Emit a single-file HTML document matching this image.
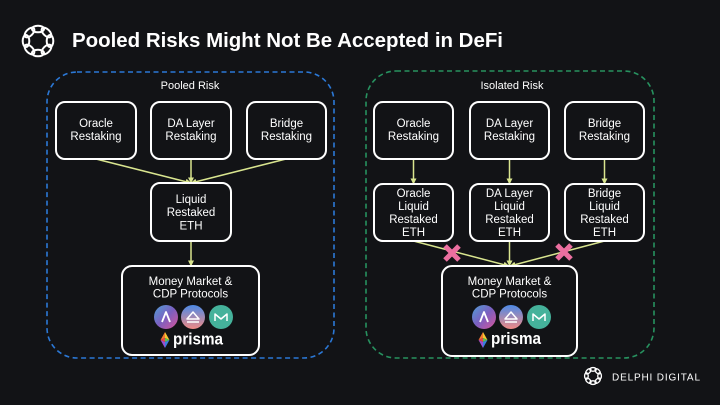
<!DOCTYPE html>
<html><head><meta charset="utf-8"><style>
html,body{margin:0;padding:0;background:#121316;}
svg{display:block;}
text{font-family:"Liberation Sans",sans-serif;fill:#fff;}
</style></head><body>
<svg width="720" height="405" viewBox="0 0 720 405" xmlns="http://www.w3.org/2000/svg">
<defs>
<marker id="ah" markerWidth="6" markerHeight="6" refX="5.5" refY="3" orient="auto" markerUnits="userSpaceOnUse"><path d="M0,0 L6,3 L0,6 z" fill="#d9e58f"/></marker>
<linearGradient id="aave" x1="0" y1="0" x2="1" y2="1"><stop offset="0" stop-color="#4f9fd6"/><stop offset="0.5" stop-color="#7c5fc0"/><stop offset="1" stop-color="#d9559a"/></linearGradient>
<linearGradient id="liq" x1="0" y1="0" x2="0" y2="1"><stop offset="0" stop-color="#4d8ae6"/><stop offset="1" stop-color="#f08a86"/></linearGradient>
<g id="knot" fill="none" stroke="#fff">
<ellipse cx="0" cy="-12" rx="6" ry="3.3" transform="rotate(0)"/>
<ellipse cx="0" cy="-12" rx="6" ry="3.3" transform="rotate(45)"/>
<ellipse cx="0" cy="-12" rx="6" ry="3.3" transform="rotate(90)"/>
<ellipse cx="0" cy="-12" rx="6" ry="3.3" transform="rotate(135)"/>
<ellipse cx="0" cy="-12" rx="6" ry="3.3" transform="rotate(180)"/>
<ellipse cx="0" cy="-12" rx="6" ry="3.3" transform="rotate(225)"/>
<ellipse cx="0" cy="-12" rx="6" ry="3.3" transform="rotate(270)"/>
<ellipse cx="0" cy="-12" rx="6" ry="3.3" transform="rotate(315)"/>
</g>
<g id="icons">
<circle cx="-27" cy="0" r="12" fill="url(#aave)"/>
<path d="M-31,5 L-27,-5 L-23,5" fill="none" stroke="#fff" stroke-width="1.8" stroke-linejoin="round"/>
<circle cx="0" cy="0" r="12" fill="url(#liq)"/>
<path d="M-6,2 L0,-5 L6,2 Z M-6,5 L6,5" fill="none" stroke="#fff" stroke-width="1.5" stroke-linejoin="round"/>
<circle cx="28" cy="0" r="12" fill="#45b29b"/>
<path d="M22,4 L22,-3 L28,2 L34,-3 L34,4" fill="none" stroke="#fff" stroke-width="1.5" stroke-linejoin="round"/>
</g>
<g id="prism">
<path d="M0,-8 L4.5,0 L0,-2 Z" fill="#f5c531"/>
<path d="M0,-8 L-4.5,0 L0,-2 Z" fill="#f07a2f"/>
<path d="M-4.5,0 L0,-2 L0,2 Z" fill="#e9434b"/>
<path d="M4.5,0 L0,-2 L0,2 Z" fill="#5bc24e"/>
<path d="M-4.5,0 L0,8 L0,2 Z" fill="#9a4fd0"/>
<path d="M4.5,0 L0,8 L0,2 Z" fill="#3b7de0"/>
</g>
</defs>

<!-- Title -->
<use href="#knot" transform="translate(38,41)" stroke-width="2"/>
<text x="72" y="47" font-size="20.5" font-weight="bold" textLength="431" lengthAdjust="spacingAndGlyphs">Pooled Risks Might Not Be Accepted in DeFi</text>

<!-- Dashed containers -->
<rect x="47" y="72" width="287" height="286" rx="30" fill="none" stroke="#2b78d6" stroke-width="1.6" stroke-dasharray="5 3.5"/>
<rect x="366" y="71" width="288" height="287" rx="30" fill="none" stroke="#27915f" stroke-width="1.6" stroke-dasharray="5 3.5"/>
<text x="190" y="89" font-size="11" text-anchor="middle">Pooled Risk</text>
<text x="512" y="89" font-size="11" text-anchor="middle">Isolated Risk</text>

<!-- Connectors -->
<g stroke="#d9e58f" stroke-width="1.5" fill="none" marker-end="url(#ah)">
<line x1="96" y1="159" x2="191" y2="183"/>
<line x1="191" y1="159" x2="191" y2="183"/>
<line x1="286" y1="159" x2="191" y2="183"/>
<line x1="191" y1="241" x2="191" y2="266"/>
<line x1="413.5" y1="159" x2="413.5" y2="184"/>
<line x1="509.5" y1="159" x2="509.5" y2="184"/>
<line x1="604.5" y1="159" x2="604.5" y2="184"/>
<line x1="413.5" y1="241" x2="509" y2="266"/>
<line x1="509.5" y1="241" x2="509.5" y2="266"/>
<line x1="604.5" y1="241" x2="510" y2="266"/>
</g>

<!-- Boxes -->
<g fill="#121316" stroke="#fff" stroke-width="2">
<rect x="56" y="102" width="80" height="57" rx="9"/>
<rect x="151" y="102" width="80" height="57" rx="9"/>
<rect x="247" y="102" width="79" height="57" rx="9"/>
<rect x="151" y="183" width="80" height="58" rx="9"/>
<rect x="122" y="266" width="137" height="89" rx="10"/>
<rect x="374" y="102" width="79" height="57" rx="9"/>
<rect x="470" y="102" width="79" height="57" rx="9"/>
<rect x="565" y="102" width="79" height="57" rx="9"/>
<rect x="374" y="184" width="79" height="57" rx="9"/>
<rect x="470" y="184" width="79" height="57" rx="9"/>
<rect x="565" y="184" width="79" height="57" rx="9"/>
<rect x="442" y="266" width="135" height="90" rx="10"/>
</g>

<g font-size="11.5" text-anchor="middle">
<text x="96" y="127">Oracle</text><text x="96" y="140">Restaking</text>
<text x="191" y="127">DA Layer</text><text x="191" y="140">Restaking</text>
<text x="286.5" y="127">Bridge</text><text x="286.5" y="140">Restaking</text>
<text x="191" y="203">Liquid</text><text x="191" y="216">Restaked</text><text x="191" y="229.5">ETH</text>
<text x="190.5" y="285">Money Market &amp;</text><text x="190.5" y="297.5">CDP Protocols</text>

<text x="413.5" y="127">Oracle</text><text x="413.5" y="140">Restaking</text>
<text x="509.5" y="127">DA Layer</text><text x="509.5" y="140">Restaking</text>
<text x="604.5" y="127">Bridge</text><text x="604.5" y="140">Restaking</text>
<text x="413.5" y="197">Oracle</text><text x="413.5" y="210">Liquid</text><text x="413.5" y="223">Restaked</text><text x="413.5" y="236">ETH</text>
<text x="509.5" y="197">DA Layer</text><text x="509.5" y="210">Liquid</text><text x="509.5" y="223">Restaked</text><text x="509.5" y="236">ETH</text>
<text x="604.5" y="197">Bridge</text><text x="604.5" y="210">Liquid</text><text x="604.5" y="223">Restaked</text><text x="604.5" y="236">ETH</text>
<text x="509.5" y="285">Money Market &amp;</text><text x="509.5" y="297.5">CDP Protocols</text>
</g>

<!-- Protocol icons -->
<use href="#icons" transform="translate(193,317)"/>
<use href="#prism" transform="translate(165,340)"/>
<text x="173" y="344.5" font-size="17" font-weight="bold" textLength="50" lengthAdjust="spacingAndGlyphs">prisma</text>
<use href="#icons" transform="translate(511,317)"/>
<use href="#prism" transform="translate(483,340)"/>
<text x="491" y="344" font-size="17" font-weight="bold" textLength="50" lengthAdjust="spacingAndGlyphs">prisma</text>

<!-- X marks -->
<g stroke="#ec6fa0" stroke-width="5" stroke-linecap="butt">
<path d="M445,246 L459,260 M459,246 L445,260"/>
<path d="M557,245 L571,259 M571,245 L557,259"/>
</g>

<!-- Footer -->
<use href="#knot" transform="translate(593,376) scale(0.55)" stroke-width="2.4"/>
<text x="612" y="380.5" font-size="10" textLength="88" lengthAdjust="spacing">DELPHI DIGITAL</text>
</svg>
</body></html>
